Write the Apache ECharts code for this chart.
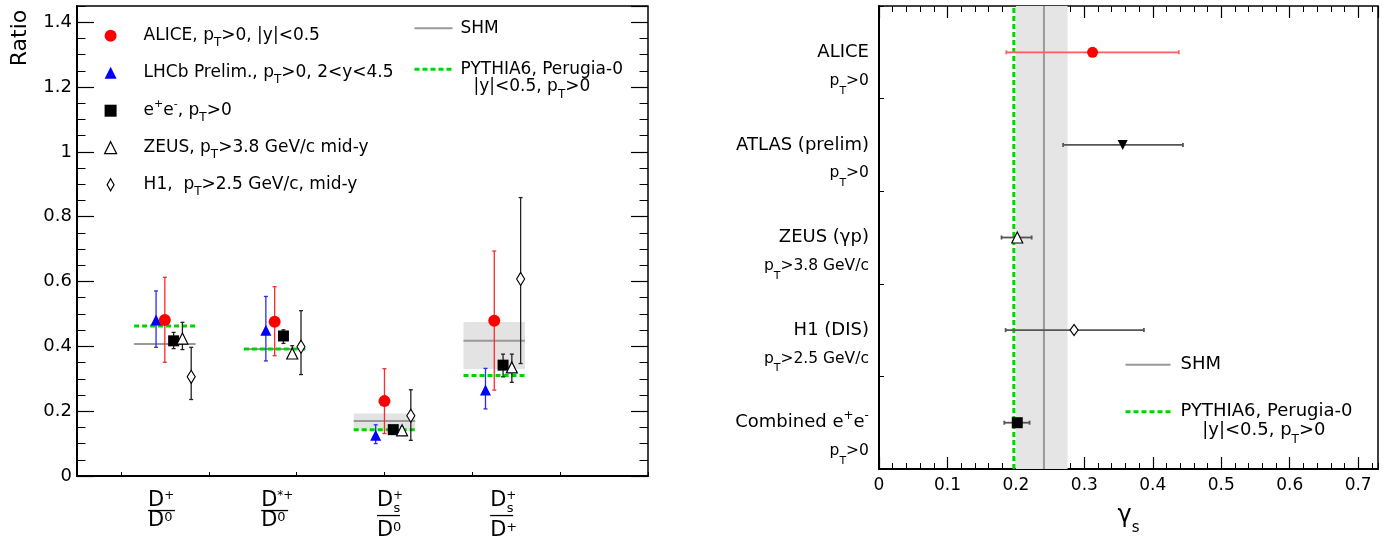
<!DOCTYPE html>
<html>
<head>
<meta charset="utf-8">
<script src="https://cdn.jsdelivr.net/npm/echarts@6.0.0/dist/echarts.min.js"></script>
<style>
html,body{margin:0;padding:0;background:#fff;}
#chart{width:1394px;height:543px;}
</style>
</head>
<body>
<div id="chart"></div>
<script>
// ================= LEFT PANEL DATA : charm-meson ratios =================
// x tick labels: [base, superscript, subscript] / [base, superscript]
const ratioNumerators   = [['D','+',''], ['D','*+',''], ['D','+','s'], ['D','+','s']];
const ratioDenominators = [['D','0'], ['D','0'], ['D','0'], ['D','+']];

const aliceRatio   = [0.481, 0.476, 0.231, 0.479];
const aliceRatioLo = [0.351, 0.371, 0.131, 0.265];
const aliceRatioHi = [0.613, 0.584, 0.331, 0.694];

const lhcbRatio   = [0.481, 0.450, 0.126, 0.265];
const lhcbRatioLo = [0.397, 0.355, 0.100, 0.207];
const lhcbRatioHi = [0.571, 0.554, 0.158, 0.332];

const eeRatio   = [0.417, 0.432, 0.143, 0.342];
const eeRatioLo = [0.393, 0.409, 0.133, 0.306];
const eeRatioHi = [0.443, 0.451, 0.153, 0.376];

const zeusRatio   = [0.424, 0.378, 0.141, 0.335];
const zeusRatioLo = [0.390, 0.365, 0.131, 0.289];
const zeusRatioHi = [0.474, 0.402, 0.151, 0.376];

const h1Ratio   = [0.306, 0.399, 0.186, 0.608];
const h1RatioLo = [0.236, 0.313, 0.110, 0.347];
const h1RatioHi = [0.397, 0.510, 0.266, 0.859];

const shmRatio   = [0.407, 0.392, 0.170, 0.417];
const shmRatioLo = [null, null, 0.139, 0.330];
const shmRatioHi = [null, null, 0.193, 0.475];
const pythiaRatio = [0.463, 0.392, 0.143, 0.310];

const markerNames = ['ALICE', 'LHCb', 'e+e-', 'ZEUS', 'H1'];
const ratioLegend = [
  'ALICE, p_{T}>0, |y|<0.5',
  'LHCb Prelim., p_{T}>0, 2<y<4.5',
  'e^{+}e^{-}, p_{T}>0',
  'ZEUS, p_{T}>3.8 GeV/c mid-y',
  'H1,  p_{T}>2.5 GeV/c, mid-y'
];
const shmLabel = 'SHM';
const pythiaLabel = ['PYTHIA6, Perugia-0', '|y|<0.5, p_{T}>0'];

// ================= RIGHT PANEL DATA : gamma_s =================
const gammaRows = ['ALICE', 'ATLAS (prelim)', 'ZEUS (γp)', 'H1 (DIS)', 'Combined e^{+}e^{-}'];
const gammaCuts = ['p_{T}>0', 'p_{T}>0', 'p_{T}>3.8 GeV/c', 'p_{T}>2.5 GeV/c', 'p_{T}>0'];
const gammaVal = [0.312, 0.356, 0.202, 0.285, 0.202];
const gammaLo  = [0.186, 0.269, 0.179, 0.185, 0.183];
const gammaHi  = [0.438, 0.444, 0.223, 0.387, 0.220];
const shmGamma = 0.241, shmGammaLo = 0.200, shmGammaHi = 0.2755;
const pythiaGamma = 0.197;

// ================= helpers / styling =================
const FONT = 'DejaVu Sans';
const catPos = ratioNumerators.map((_, i) => 0.5 + 1.25 * i);
const HALF = 0.35;          // half width of model segments
const CAP = 2;              // error bar cap half length (px)
const labelNudge = [-3.3, 2.6, 4.7, 9.4];
const ROWS = gammaRows.length;
const rowY = i => ROWS - 0.5 - i;

function toRich(s, base) {
  return s.split(/(\^\{[^}]*\}|_\{[^}]*\})/).filter(p => p !== '').map(p => {
    if (p.startsWith('^{')) return '{' + base + 'Sup|' + p.slice(2, -1) + '}';
    if (p.startsWith('_{')) return '{' + base + 'Sub|' + p.slice(2, -1) + '}';
    return '{' + base + '|' + p + '}';
  }).join('');
}
function richTrio(base, size, lh, supSize, supH, subSize, subH, align) {
  const c = {fontFamily: FONT, color: '#000'};
  if (align) c.align = align;
  const o = {};
  o[base] = Object.assign({fontSize: size, lineHeight: lh}, c);
  o[base + 'Sup'] = Object.assign({fontSize: supSize, lineHeight: lh, height: supH, verticalAlign: 'top'}, c);
  o[base + 'Sub'] = Object.assign({fontSize: subSize, lineHeight: lh, height: subH, verticalAlign: 'bottom'}, c);
  return o;
}

function fracLabel(i) {
  const [b, sup, sub] = ratioNumerators[i];
  const [db, dsup] = ratioDenominators[i];
  let num = '{fD|' + b + '}';
  if (sup && sub) num += '{fSupN|' + sup + '}{fSub|' + sub + '}';
  else if (sup) num += '{fSup|' + sup + '}';
  const bar = sub ? '{fBarS| }' : '{fBar| }';
  const den = '{fD|' + db + '}{fSupD|' + dsup + '}';
  return num + '\n' + bar + '\n' + den;
}
const fracRich = {
  fD:    {fontFamily: FONT, fontSize: 21, lineHeight: 18, align: 'left', color: '#000'},
  fSup:  {fontFamily: FONT, fontSize: 12, lineHeight: 18, height: 9, verticalAlign: 'top', align: 'left', color: '#000'},
  fSupN: {fontFamily: FONT, fontSize: 12, lineHeight: 18, height: 9, width: 0.5, verticalAlign: 'top', align: 'left', color: '#000'},
  fSub:  {fontFamily: FONT, fontSize: 13, lineHeight: 18, height: 2, verticalAlign: 'bottom', align: 'left', color: '#000'},
  fSupD: {fontFamily: FONT, fontSize: 13, lineHeight: 18, height: 12, verticalAlign: 'top', align: 'left', color: '#000'},
  fBar:  {fontSize: 1, width: 27, height: 1.3, lineHeight: 2, backgroundColor: '#000', align: 'left'},
  fBarS: {fontSize: 1, width: 23, height: 1.3, lineHeight: 12, backgroundColor: '#000', align: 'left'}
};

function vErr(color, lw) {
  return function (params, api) {
    const x = api.value(0), lo = api.value(2), hi = api.value(3);
    const a = api.coord([x, lo]), b = api.coord([x, hi]);
    const st = {stroke: color, lineWidth: lw};
    return {type: 'group', children: [
      {type: 'line', shape: {x1: a[0], y1: a[1], x2: b[0], y2: b[1]}, style: st},
      {type: 'line', shape: {x1: a[0] - CAP, y1: a[1], x2: a[0] + CAP, y2: a[1]}, style: st},
      {type: 'line', shape: {x1: b[0] - CAP, y1: b[1], x2: b[0] + CAP, y2: b[1]}, style: st}
    ]};
  };
}
function segData(vals) {
  const d = [];
  catPos.forEach((x, i) => { d.push([x - HALF, vals[i]], [x + HALF, vals[i]], [x + HALF, '-']); });
  return d;
}

const L = {xAxisIndex: 0, yAxisIndex: 0};
const R = {xAxisIndex: 1, yAxisIndex: 4};
const series = [];

// ----- left: SHM band, SHM line, PYTHIA line -----
series.push(Object.assign({
  type: 'custom', z: 1, silent: true, encode: {x: 0, y: [1, 2]},
  data: catPos.map((x, i) => shmRatioLo[i] == null ? null : [x, shmRatioLo[i], shmRatioHi[i]]).filter(Boolean),
  renderItem: (p, api) => {
    const x = api.value(0), lo = api.value(1), hi = api.value(2);
    const a = api.coord([x - HALF, hi]), b = api.coord([x + HALF, lo]);
    return {type: 'rect', shape: {x: a[0], y: a[1], width: b[0] - a[0], height: b[1] - a[1]}, style: {fill: '#e3e3e3'}};
  }
}, L));
series.push(Object.assign({name: 'SHM', type: 'line', z: 2, silent: true, symbol: 'none', showSymbol: false,
  lineStyle: {color: '#999999', width: 2}, itemStyle: {color: '#999999'}, data: segData(shmRatio)}, L));
series.push(Object.assign({name: 'PYTHIA', type: 'line', z: 3, silent: true, symbol: 'none', showSymbol: false,
  lineStyle: {color: '#00d400', width: 3, type: [5, 3]}, itemStyle: {color: '#00d400'}, data: segData(pythiaRatio)}, L));

// ----- left: experiments -----
const ratioSets = [
  {name: 'LHCb', v: lhcbRatio, lo: lhcbRatioLo, hi: lhcbRatioHi, off: -0.1,
   errColor: '#2a2aff', symbol: 'triangle', size: 11, fill: '#0000ff', stroke: '#0000ff', bw: 0},
  {name: 'ALICE', v: aliceRatio, lo: aliceRatioLo, hi: aliceRatioHi, off: 0,
   errColor: '#ff2a2a', symbol: 'circle', size: 12, fill: '#ff0000', stroke: '#ff0000', bw: 0},
  {name: 'e+e-', v: eeRatio, lo: eeRatioLo, hi: eeRatioHi, off: 0.1,
   errColor: '#222', symbol: 'rect', size: 11, fill: '#000', stroke: '#000', bw: 0},
  {name: 'ZEUS', v: zeusRatio, lo: zeusRatioLo, hi: zeusRatioHi, off: 0.2,
   errColor: '#222', symbol: 'triangle', size: 11, fill: '#fff', stroke: '#000', bw: 1.2},
  {name: 'H1', v: h1Ratio, lo: h1RatioLo, hi: h1RatioHi, off: 0.3,
   errColor: '#222', symbol: 'diamond', size: [8, 13], fill: '#fff', stroke: '#000', bw: 1.2}
];
ratioSets.forEach(s => {
  series.push(Object.assign({type: 'custom', z: 4, silent: true, encode: {x: 0, y: 1},
    renderItem: vErr(s.errColor, 1.3),
    data: catPos.map((x, i) => [x + s.off, s.v[i], s.lo[i], s.hi[i]])}, L));
});
ratioSets.forEach(s => {
  series.push(Object.assign({name: s.name, type: 'scatter', z: 5, silent: true,
    symbol: s.symbol, symbolSize: s.size,
    itemStyle: {color: s.fill, borderColor: s.stroke, borderWidth: s.bw, opacity: 1},
    data: catPos.map((x, i) => [x + s.off, s.v[i]])}, L));
});
// ----- left: category labels (fractions) -----
series.push(Object.assign({type: 'scatter', z: 6, silent: true, clip: false, symbolSize: 0.1,
  itemStyle: {color: 'rgba(0,0,0,0)', opacity: 1},
  label: {show: true, position: 'bottom', distance: 15.5, color: '#000', fontFamily: FONT,
    formatter: p => fracLabel(p.dataIndex), rich: fracRich},
  data: catPos.map((x, i) => ({value: [x, 0], label: {offset: [labelNudge[i], 0]}}))}, L));

// ----- right: SHM band, lines -----
series.push(Object.assign({
  type: 'custom', z: 1, silent: true, encode: {x: [0, 1]},
  data: [[shmGammaLo, shmGammaHi]],
  renderItem: (p, api) => {
    const a = api.coord([api.value(0), ROWS]), b = api.coord([api.value(1), 0]);
    return {type: 'rect', shape: {x: a[0], y: a[1], width: b[0] - a[0], height: b[1] - a[1]}, style: {fill: '#e5e5e5'}};
  }
}, R));
series.push(Object.assign({name: 'SHM_r', type: 'line', z: 2, silent: true, symbol: 'none', showSymbol: false,
  lineStyle: {color: '#999999', width: 2}, itemStyle: {color: '#999999'},
  data: [[shmGamma, 0], [shmGamma, ROWS]]}, R));
series.push(Object.assign({name: 'PYTHIA_r', type: 'line', z: 3, silent: true, symbol: 'none', showSymbol: false,
  lineStyle: {color: '#00d400', width: 3, type: [5, 3]}, itemStyle: {color: '#00d400'},
  data: [[pythiaGamma, 0], [pythiaGamma, ROWS]]}, R));

const rowStyles = [
  {err: '#ff5c5c', symbol: 'circle', size: 11, fill: '#ff0000', stroke: '#ff0000', bw: 0, rot: 0},
  {err: '#555555', symbol: 'triangle', size: 10, fill: '#000', stroke: '#000', bw: 0, rot: 180},
  {err: '#555555', symbol: 'triangle', size: 11, fill: '#fff', stroke: '#000', bw: 1.2, rot: 0},
  {err: '#555555', symbol: 'diamond', size: [8, 11], fill: '#fff', stroke: '#000', bw: 1.2, rot: 0},
  {err: '#555555', symbol: 'rect', size: 11, fill: '#000', stroke: '#000', bw: 0, rot: 0}
];
series.push(Object.assign({type: 'custom', z: 4, silent: true, encode: {x: 0, y: 1},
  data: gammaVal.map((v, i) => [v, rowY(i), gammaLo[i], gammaHi[i]]),
  renderItem: (params, api) => {
    const y = api.value(1), lo = api.value(2), hi = api.value(3);
    const a = api.coord([lo, y]), b = api.coord([hi, y]);
    const st = {stroke: rowStyles[params.dataIndex].err, lineWidth: 1.8};
    return {type: 'group', children: [
      {type: 'line', shape: {x1: a[0], y1: a[1], x2: b[0], y2: b[1]}, style: st},
      {type: 'line', shape: {x1: a[0], y1: a[1] - CAP, x2: a[0], y2: a[1] + CAP}, style: st},
      {type: 'line', shape: {x1: b[0], y1: b[1] - CAP, x2: b[0], y2: b[1] + CAP}, style: st}
    ]};
  }
}, R));
series.push(Object.assign({type: 'scatter', z: 5, silent: true, itemStyle: {opacity: 1},
  data: gammaVal.map((v, i) => {
    const st = rowStyles[i];
    return {value: [v, rowY(i)], symbol: st.symbol, symbolSize: st.size, symbolRotate: st.rot,
      itemStyle: {color: st.fill, borderColor: st.stroke, borderWidth: st.bw, opacity: 1}};
  })}, R));
// row labels
const rowRich = Object.assign({rsp: {fontSize: 1, lineHeight: 6.5, align: 'right'}},
  richTrio('rt', 18, 22, 12, 9, 12, 8, 'right'),
  richTrio('rc', 15.5, 22, 11, 9, 11, 2, 'right'));
series.push(Object.assign({type: 'scatter', z: 6, silent: true, clip: false, symbolSize: 0.1,
  itemStyle: {color: 'rgba(0,0,0,0)', opacity: 1},
  label: {show: true, position: 'left', distance: 10, verticalAlign: 'top', offset: [0, -11], align: 'right',
    color: '#000', fontFamily: FONT,
    formatter: p => toRich(gammaRows[p.dataIndex], 'rt') + '\n{rsp| }\n' + toRich(gammaCuts[p.dataIndex], 'rc'),
    rich: rowRich},
  data: gammaRows.map((_, i) => [0, rowY(i)])}, R));

// ================= axes =================
const black = {color: '#000'};
const noLabel = {show: false};
const noLine = {show: false, onZero: false};
const option = {
  animation: false,
  backgroundColor: '#fff',
  textStyle: {fontFamily: FONT},
  grid: [
    {left: 77, top: 6, width: 571, height: 470, show: true, borderColor: '#000', borderWidth: 1.5, backgroundColor: 'rgba(0,0,0,0)'},
    {left: 879, top: 6, width: 499, height: 463, show: true, borderColor: '#000', borderWidth: 1.5, backgroundColor: 'rgba(0,0,0,0)'}
  ],
  xAxis: [
    {gridIndex: 0, type: 'value', position: 'bottom', min: -0.5, max: 6, splitNumber: 6,
     axisLine: {onZero: false, lineStyle: {color: '#000', width: 2}}, axisTick: {inside: true, length: 4, lineStyle: black},
     axisLabel: noLabel, splitLine: {show: false}},
    {gridIndex: 1, type: 'value', position: 'bottom', min: 0, max: 0.729, interval: 0.1,
     axisLine: {onZero: false, lineStyle: {color: '#000', width: 2}}, axisTick: {inside: true, length: 12, lineStyle: {color: '#000', width: 1.2}},
     axisLabel: {fontSize: 17, color: '#000', margin: 8, fontFamily: FONT, showMaxLabel: false},
     splitLine: {show: false},
     name: '{g|γ}{s|s}', nameLocation: 'middle', nameGap: 32,
     nameTextStyle: {rich: {
       g: {fontFamily: FONT, fontSize: 24, lineHeight: 30, color: '#000'},
       s: {fontFamily: FONT, fontSize: 15, lineHeight: 30, height: 6, verticalAlign: 'bottom', color: '#000'}}}},
    {gridIndex: 1, type: 'value', position: 'bottom', min: 0, max: 0.729, interval: 0.02,
     axisLine: noLine, axisTick: {inside: true, length: 6, lineStyle: black}, axisLabel: noLabel, splitLine: {show: false}},
    {gridIndex: 1, type: 'value', position: 'top', min: 0, max: 0.729, interval: 0.1,
     axisLine: noLine, axisTick: {inside: true, length: 12, lineStyle: {color: '#000', width: 1.2}}, axisLabel: noLabel, splitLine: {show: false}},
    {gridIndex: 1, type: 'value', position: 'top', min: 0, max: 0.729, interval: 0.02,
     axisLine: noLine, axisTick: {inside: true, length: 6, lineStyle: black}, axisLabel: noLabel, splitLine: {show: false}}
  ],
  yAxis: [
    {gridIndex: 0, type: 'value', position: 'left', min: 0, max: 1.45, interval: 0.2,
     axisLine: {show: true, onZero: false, lineStyle: {color: '#000', width: 2}}, axisTick: {inside: true, length: 17, lineStyle: {color: '#000', width: 1.2}},
     axisLabel: {fontSize: 18, color: '#000', margin: 5, fontFamily: FONT, showMaxLabel: false}, splitLine: {show: false}},
    {gridIndex: 0, type: 'value', position: 'left', min: 0, max: 1.45, interval: 0.05,
     axisLine: noLine, axisTick: {inside: true, length: 8.5, lineStyle: black}, axisLabel: noLabel, splitLine: {show: false}},
    {gridIndex: 0, type: 'value', position: 'right', min: 0, max: 1.45, interval: 0.2,
     axisLine: noLine, axisTick: {inside: true, length: 17, lineStyle: {color: '#000', width: 1.2}}, axisLabel: noLabel, splitLine: {show: false}},
    {gridIndex: 0, type: 'value', position: 'right', min: 0, max: 1.45, interval: 0.05,
     axisLine: noLine, axisTick: {inside: true, length: 8.5, lineStyle: black}, axisLabel: noLabel, splitLine: {show: false}},
    {gridIndex: 1, type: 'value', position: 'left', min: 0, max: ROWS, interval: 1,
     axisLine: {show: true, onZero: false, lineStyle: {color: '#000', width: 2}}, axisTick: {inside: true, length: 5, lineStyle: black},
     axisLabel: noLabel, splitLine: {show: false}}
  ],
  legend: [
    {orient: 'vertical', left: 104, top: 24.7, padding: 0, itemWidth: 12, itemHeight: 12, itemGap: 13,
     selectedMode: false,
     data: [{name: 'ALICE'}, {name: 'LHCb'}, {name: 'e+e-'}, {name: 'ZEUS'},
            {name: 'H1', icon: 'path://M4,0L8,7L4,14L0,7Z'}],
     formatter: name => '{gap| }' + toRich(ratioLegend[markerNames.indexOf(name)], 'lg'),
     itemStyle: {borderWidth: 'inherit'},
     textStyle: {color: '#000', fontFamily: FONT, fontSize: 17, lineHeight: 22,
       rich: Object.assign({gap: {width: 22, lineHeight: 22, fontSize: 1}}, richTrio('lg', 17, 22, 11, 9, 12, 8))}},
    {orient: 'vertical', left: 413, top: 19.8, padding: 0, itemWidth: 38, itemHeight: 14, itemGap: 7,
     selectedMode: false, data: ['SHM', 'PYTHIA'],
     formatter: name => name === 'SHM' ? '{g3| }' + toRich(shmLabel, 'l2')
       : '{sp| }\n{g3| }' + toRich(pythiaLabel[0], 'l2') + '\n{g16| }' + toRich(pythiaLabel[1], 'l2'),
     itemStyle: {opacity: 0, color: 'rgba(0,0,0,0)', borderWidth: 0},
     lineStyle: {color: 'inherit', width: 'inherit', type: 'inherit'},
     textStyle: {color: '#000', fontFamily: FONT, fontSize: 17, lineHeight: 17,
       rich: Object.assign({g3: {width: 3, fontSize: 1, lineHeight: 17}, g16: {width: 16, fontSize: 1, lineHeight: 17},
         sp: {fontSize: 1, lineHeight: 17}}, richTrio('l2', 17, 17, 11, 9, 12, 0.5))}},
    {orient: 'vertical', left: 1124, top: 355.2, padding: 0, itemWidth: 45, itemHeight: 14, itemGap: 9,
     selectedMode: false, data: ['SHM_r', 'PYTHIA_r'],
     formatter: name => name === 'SHM_r' ? '{g5| }' + toRich(shmLabel, 'l3')
       : '{sp| }\n{g5| }' + toRich(pythiaLabel[0], 'l3') + '\n{g27| }' + toRich(pythiaLabel[1], 'l3'),
     itemStyle: {opacity: 0, color: 'rgba(0,0,0,0)', borderWidth: 0},
     lineStyle: {color: 'inherit', width: 'inherit', type: 'inherit'},
     textStyle: {color: '#000', fontFamily: FONT, fontSize: 18, lineHeight: 19,
       rich: Object.assign({g5: {width: 5, fontSize: 1, lineHeight: 19}, g27: {width: 26.7, fontSize: 1, lineHeight: 19},
         sp: {fontSize: 1, lineHeight: 19}}, richTrio('l3', 18, 19, 12, 9, 12, 0.5))}}
  ],
  graphic: [
    {type: 'text', x: 20, y: 38, rotation: Math.PI / 2, silent: true,
     style: {text: 'Ratio', fontFamily: FONT, fontSize: 22, fill: '#000', align: 'center', verticalAlign: 'middle'}}
  ],
  series: series
};

const chart = echarts.init(document.getElementById('chart'), null, {renderer: 'canvas'});
chart.setOption(option);
</script>
</body>
</html>
